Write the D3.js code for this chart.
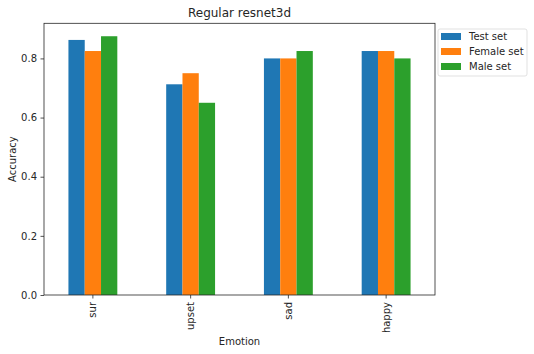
<!DOCTYPE html>
<html lang="en">
<head>
<meta charset="UTF-8">
<title>Regular resnet3d</title>
<script src="https://d3js.org/d3.v7.min.js"></script>
<style>
    body { margin: 0; background: #fff; }
    svg text { font-family: "DejaVu Sans", sans-serif; fill: #262626; }
</style>
</head>
<body>
<svg width="534" height="354"></svg>
<script>
    // data
    const emotions = ["sur", "upset", "sad", "happy"];
    const seriesNames = ["Test set", "Female set", "Male set"];
    const testSet = [0.8625, 0.7125, 0.8, 0.825];
    const femaleSet = [0.825, 0.75, 0.8, 0.825];
    const maleSet = [0.875, 0.65, 0.825, 0.8];
    const yTicks = [0.0, 0.2, 0.4, 0.6, 0.8];
    const colors = ["#1f77b4", "#ff7f0e", "#2ca02c"];

    const allSeries = [testSet, femaleSet, maleSet];

    const plotLeft = 44, plotRight = 435, plotTop = 23.3, plotBottom = 295;
    const svg = d3.select("svg");

    const x = d3.scaleBand().domain(emotions).range([plotLeft, plotRight]).paddingInner(0.5).paddingOuter(0.25);
    const xSub = d3.scaleBand().domain(seriesNames).range([0, x.bandwidth()]);
    const yMax = d3.max(allSeries, s => d3.max(s)) * 1.05;
    const y = d3.scaleLinear().domain([0, yMax]).range([plotBottom, plotTop]);

    // bars
    const groups = svg.append("g").selectAll("g")
        .data(emotions)
        .join("g")
        .attr("transform", d => `translate(${x(d)},0)`);

    groups.selectAll("rect")
        .data((d, i) => seriesNames.map((s, j) => ({ s, j, v: allSeries[j][i] })))
        .join("rect")
        .attr("x", d => xSub(d.s))
        .attr("width", xSub.bandwidth())
        .attr("y", d => y(d.v))
        .attr("height", d => plotBottom - y(d.v))
        .attr("fill", d => colors[d.j]);

    // axes
    const xAxis = svg.append("g")
        .attr("transform", `translate(0,${plotBottom})`)
        .call(d3.axisBottom(x).tickSize(3.5).tickPadding(3.5));
    xAxis.select(".domain").remove();
    xAxis.selectAll("line").attr("stroke", "#262626").attr("stroke-width", 0.8);
    xAxis.selectAll("text")
        .attr("font-size", 10)
        .attr("transform", "rotate(-90)")
        .attr("text-anchor", "end")
        .attr("x", -7)
        .attr("y", 0)
        .attr("dy", "0.35em");

    const yAxis = svg.append("g")
        .attr("transform", `translate(${plotLeft},0)`)
        .call(d3.axisLeft(y).tickValues(yTicks).tickFormat(d3.format(".1f")).tickSize(3.5).tickPadding(3.5));
    yAxis.select(".domain").remove();
    yAxis.selectAll("line").attr("stroke", "#262626").attr("stroke-width", 0.8);
    yAxis.selectAll("text").attr("font-size", 10);

    // frame
    svg.append("rect")
        .attr("x", plotLeft).attr("y", plotTop)
        .attr("width", plotRight - plotLeft).attr("height", plotBottom - plotTop)
        .attr("fill", "none").attr("stroke", "#262626").attr("stroke-width", 0.8);

    // labels
    svg.append("text").attr("x", (plotLeft + plotRight) / 2).attr("y", 17)
        .attr("text-anchor", "middle").attr("font-size", 12).text("Regular resnet3d");
    svg.append("text").attr("x", (plotLeft + plotRight) / 2).attr("y", 345)
        .attr("text-anchor", "middle").attr("font-size", 10).text("Emotion");
    svg.append("text")
        .attr("transform", `translate(16,${(plotTop + plotBottom) / 2}) rotate(-90)`)
        .attr("text-anchor", "middle").attr("font-size", 10).text("Accuracy");

    // legend
    const legend = svg.append("g").attr("transform", "translate(438,29)");
    legend.append("rect")
        .attr("width", 89).attr("height", 47).attr("rx", 2)
        .attr("fill", "#fff").attr("stroke", "#d9d9d9").attr("stroke-width", 0.8);
    const items = legend.selectAll("g.item")
        .data(seriesNames)
        .join("g")
        .attr("class", "item")
        .attr("transform", (d, i) => `translate(0,${7.5 + i * 15})`);
    items.append("rect").attr("x", 3).attr("y", -3.5).attr("width", 20).attr("height", 7)
        .attr("fill", (d, i) => colors[i]);
    items.append("text").attr("x", 31).attr("y", 0).attr("dy", "0.35em")
        .attr("font-size", 10).text(d => d);
</script>
</body>
</html>
